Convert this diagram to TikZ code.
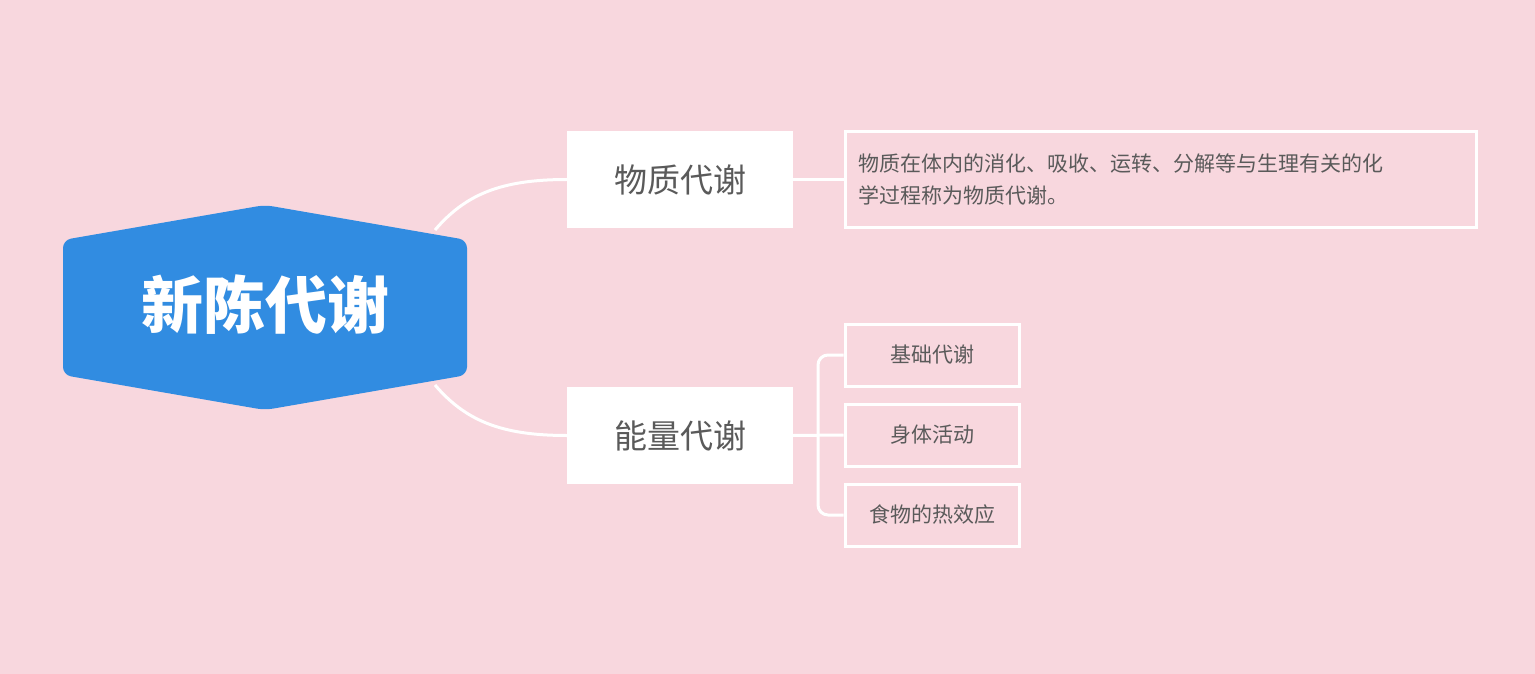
\documentclass[tikz,border=0pt]{standalone}
\usepackage{fontspec}
\setmainfont{Noto Sans CJK SC}
\newfontfamily\cjkb[BoldFont={* Bold}]{Noto Sans CJK SC}
\definecolor{bg}{HTML}{F8D7DE}
\definecolor{hub}{HTML}{318CE1}
\definecolor{txt}{HTML}{5A5A5A}
\begin{document}
\begin{tikzpicture}[x=1pt,y=-1pt,
  link/.style={draw=white,line width=3pt},
  mainbox/.style={fill=white,minimum width=226pt,minimum height=97pt,text=txt,font=\fontsize{33}{36}\selectfont,inner sep=0pt},
  leaf/.style={draw=white,line width=3pt,text=txt,font=\fontsize{21}{32}\selectfont,inner sep=0pt}]
\fill[bg] (0,0) rectangle (1535,674);
\useasboundingbox (0,0) rectangle (1535,674);
\fill[hub,rounded corners=8pt] (63,240) -- (265,205) -- (467,240) -- (467,375) -- (265,410) -- (63,375) -- cycle;
\node[text=white,font=\fontsize{62}{66}\selectfont\bfseries] (hub) at (265,305) {新陈代谢};
\node[mainbox] (a) at (680,179.5) {物质代谢};
\node[mainbox] (b) at (680,435.5) {能量代谢};
\draw[link] (435,230) .. controls (465,195) and (500,179.5) .. (a.west);
\draw[link] (435,385) .. controls (465,420) and (500,435.5) .. (b.west);
\node[leaf,minimum width=631pt,minimum height=95pt,align=left,text width=605pt] (d) at (1160.5,179.5) {物质在体内的消化、吸收、运转、分解等与生理有关的化\\学过程称为物质代谢。};
\draw[link] (a.east) -- (d.west);
\node[leaf,minimum width=174pt,minimum height=62pt] (l1) at (932,355) {基础代谢};
\node[leaf,minimum width=174pt,minimum height=62pt] (l2) at (932,435) {身体活动};
\node[leaf,minimum width=174pt,minimum height=62pt] (l3) at (932,515) {食物的热效应};
\draw[link] (b.east) -- (l2.west);
\draw[link,rounded corners=10pt] (l1.west) -- (818,355) -- (818,515) -- (l3.west);
\end{tikzpicture}
\end{document}
